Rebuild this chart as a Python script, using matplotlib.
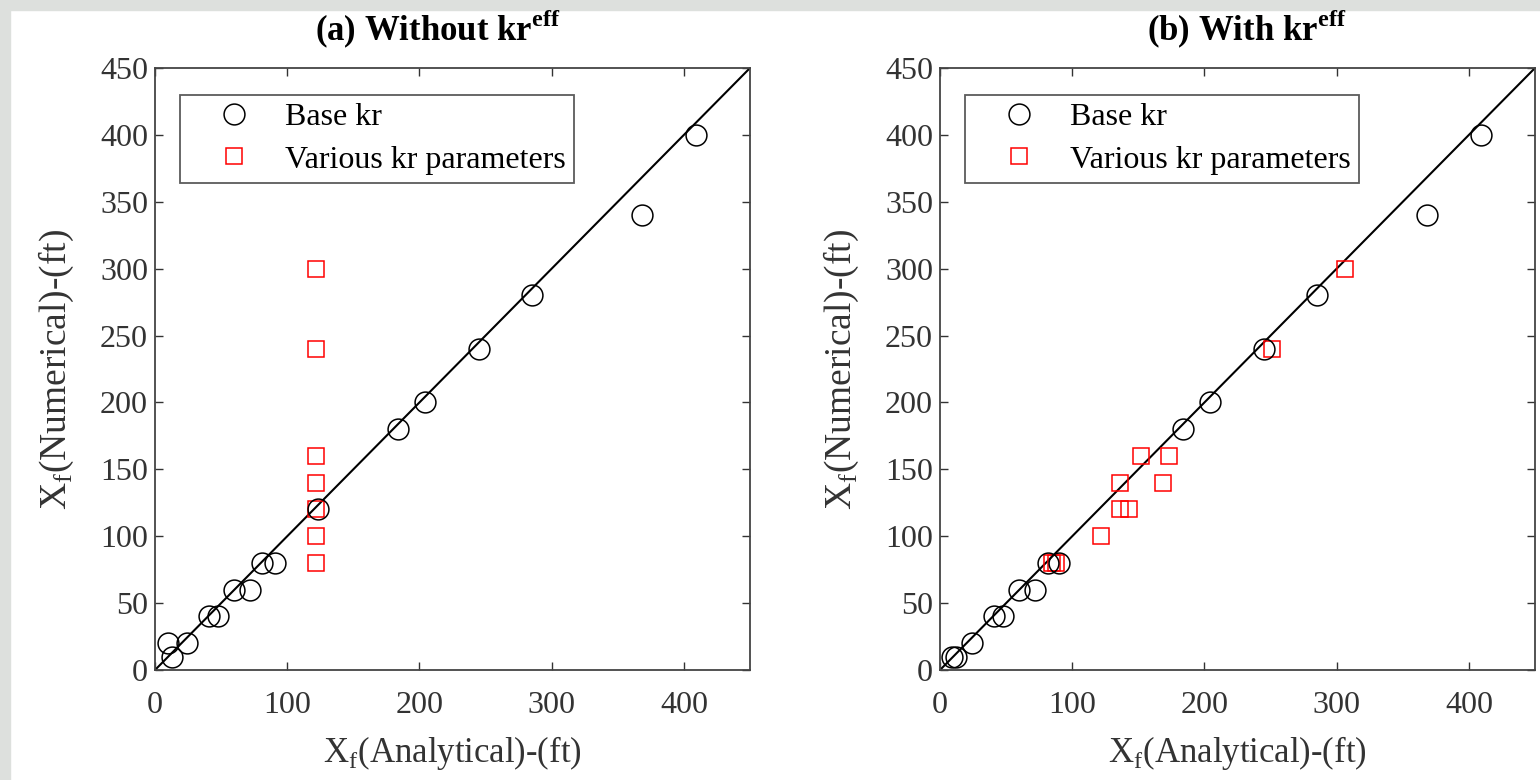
import matplotlib
matplotlib.use("Agg")
import matplotlib.pyplot as plt
from matplotlib.patches import Rectangle

plt.rcParams['font.family'] = ['Liberation Serif', 'DejaVu Serif']
plt.rcParams['mathtext.fontset'] = 'custom'
plt.rcParams['mathtext.rm'] = 'Liberation Serif'
plt.rcParams['mathtext.bf'] = 'Liberation Serif:bold'

# Panel (a): without kr_eff
a_base_x = [10, 13, 24, 41, 48, 60, 72, 81, 91, 123, 184, 204, 245, 285, 368, 409]
a_base_y = [20, 10, 20, 40, 40, 60, 60, 80, 80, 120, 180, 200, 240, 280, 340, 400]
a_var_x = [122, 122, 122, 122, 122, 122, 122]
a_var_y = [300, 240, 160, 140, 120, 100, 80]

# Panel (b): with kr_eff
b_base_x = [9, 12, 24, 41, 48, 60, 72, 82, 90, 184, 204, 245, 285, 368, 409]
b_base_y = [10, 10, 20, 40, 40, 60, 60, 80, 80, 180, 200, 240, 280, 340, 400]
b_var_x = [306, 251, 152, 173, 136, 169, 136, 143, 122, 85, 88]
b_var_y = [300, 240, 160, 160, 140, 140, 120, 120, 100, 80, 80]

titles = [r'(a) Without kr$^{\mathbf{eff}}$', r'(b) With kr$^{\mathbf{eff}}$']
title_x = [0.475, 0.515]
xticks = [0, 100, 200, 300, 400]
yticks = [0, 50, 100, 150, 200, 250, 300, 350, 400, 450]
lim = [0, 450]

fig = plt.figure(figsize=(15.4, 7.8), dpi=100)
fig.patch.set_facecolor('white')
# light grey frame strips at top and left
fig.add_artist(Rectangle((0, 1 - 10/780), 1, 10/780, transform=fig.transFigure,
                         color='#dde0dd', zorder=0))
fig.add_artist(Rectangle((0, 0), 10/1540, 1, transform=fig.transFigure,
                         color='#dde0dd', zorder=0))

W, H = 1540, 780
lefts = [155, 940]
width = 595
top, bottom = 68, 670

data = [(a_base_x, a_base_y, a_var_x, a_var_y), (b_base_x, b_base_y, b_var_x, b_var_y)]

for i in range(2):
    ax = fig.add_axes([lefts[i]/W, 1 - bottom/H, width/W, (bottom - top)/H])
    bx, by, vx, vy = data[i]
    ax.plot(lim, lim, color='black', lw=1.5, zorder=1)
    ax.plot(bx, by, linestyle='none', marker='o', markersize=15, markerfacecolor='none',
            markeredgecolor='black', markeredgewidth=1.1, label='Base kr', zorder=3)
    ax.plot(vx, vy, linestyle='none', marker='s', markersize=12, markerfacecolor='none',
            markeredgecolor='red', markeredgewidth=1.1, label='Various kr parameters', zorder=2)
    ax.set_xlim(lim)
    ax.set_ylim(lim)
    ax.set_xticks(xticks)
    ax.set_yticks(yticks)
    ax.tick_params(direction='in', top=True, right=True, length=6, width=1,
                   labelsize=23, colors='#333333', labelcolor='#333333')
    ax.tick_params(axis='x', pad=15)
    ax.tick_params(axis='y', pad=5)
    for s in ax.spines.values():
        s.set_linewidth(1.3)
        s.set_color('#444444')
    ax.set_xlabel(r'X$_\mathrm{f}$(Analytical)-(ft)', fontsize=25, labelpad=10, color='#333333')
    ax.set_ylabel(r'X$_\mathrm{f}$(Numerical)-(ft)', fontsize=27, labelpad=17, color='#333333')
    ax.set_title(titles[i], fontsize=25, fontweight='bold', pad=20, x=title_x[i])
    leg = ax.legend(loc='upper left', bbox_to_anchor=(0.042, 0.955), fontsize=23,
                    frameon=True, fancybox=False, edgecolor='#333333', borderpad=0.25,
                    handletextpad=0.15, labelspacing=0.4, borderaxespad=0, handlelength=2.9)
    leg.get_frame().set_linewidth(1.3)

fig.savefig('out.png', dpi=100)
